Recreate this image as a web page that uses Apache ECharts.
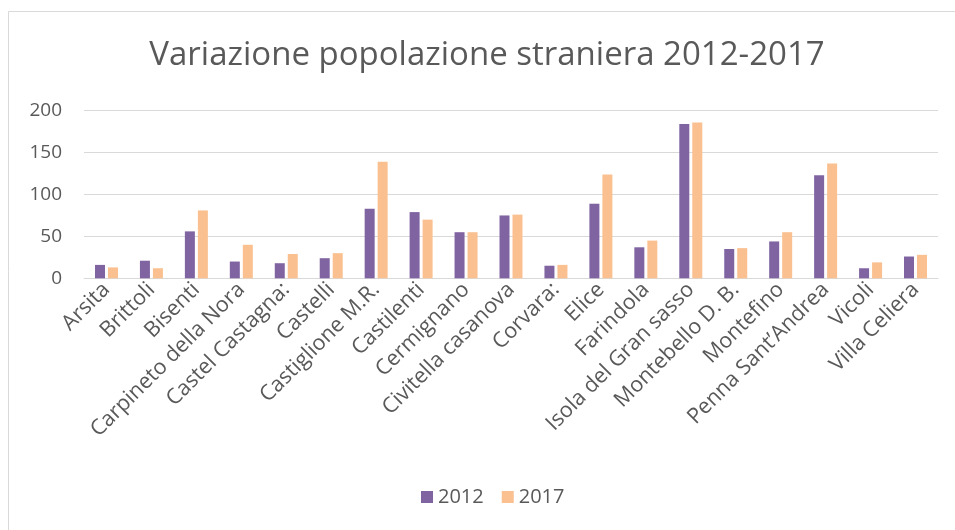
<!DOCTYPE html>
<html><head><meta charset="utf-8">
<script src="https://cdn.jsdelivr.net/npm/echarts@6/dist/echarts.min.js"></script>
<style>html,body{margin:0;padding:0;background:#fff}#c{width:955px;height:530px}</style>
</head><body><div id="c"></div>
<script>
const categories = ["Arsita","Brittoli","Bisenti","Carpineto della Nora","Castel Castagna:","Castelli","Castiglione M.R.","Castilenti","Cermignano","Civitella casanova","Corvara:","Elice","Farindola","Isola del Gran sasso","Montebello D. B.","Montefino","Penna Sant\u2019Andrea","Vicoli","Villa Celiera"];
const values2012 = [16,21,56,20,18,24,83,79,55,75,15,89,37,184,35,44,123,12,26];
const values2017 = [13,12,81,40,29,30,139,70,55,76,16,124,45,186,36,55,137,19,28];
const yTicks = [0,50,100,150,200];

const font = "'Open Sans', 'Liberation Sans', sans-serif";
const chart = echarts.init(document.getElementById('c'), null, {renderer:'canvas'});
chart.setOption({
  animation:false,
  textStyle:{fontFamily:font,color:'#595959'},
  graphic:[{type:'rect',shape:{x:8.5,y:11.5,width:960,height:540},style:{fill:'none',stroke:'#d9d9d9',lineWidth:1}}],
  title:{text:'Variazione popolazione straniera 2012-2017',left:482,textAlign:'center',top:34,
    textStyle:{fontFamily:font,fontSize:33,fontWeight:'normal',color:'#595959'}},
  legend:{bottom:18,left:416,itemWidth:12,itemHeight:12,itemGap:18,icon:'rect',
    textStyle:{fontFamily:font,fontSize:20,color:'#595959'},data:['2012','2017']},
  grid:{left:84,right:17,top:110.7,bottom:530-278.3,containLabel:false},
  xAxis:{type:'category',data:categories,
    axisLine:{show:true,lineStyle:{color:'#d9d9d9',width:1}},axisTick:{show:false},
    axisLabel:{rotate:45,interval:0,fontSize:21.5,color:'#595959',fontFamily:font,margin:8}},
  yAxis:{type:'value',min:yTicks[0],max:yTicks[yTicks.length-1],interval:50,
    axisLine:{show:false},axisTick:{show:false},
    splitLine:{lineStyle:{color:'#d9d9d9',width:1}},
    axisLabel:{fontSize:19,color:'#595959',fontFamily:font,margin:22}},
  series:[
    {name:'2012',type:'bar',data:values2012,barWidth:10,barGap:'30%',itemStyle:{color:'#8064a2'}},
    {name:'2017',type:'bar',data:values2017,barWidth:10,barGap:'30%',itemStyle:{color:'#fac08f'}}
  ]
});
</script></body></html>
